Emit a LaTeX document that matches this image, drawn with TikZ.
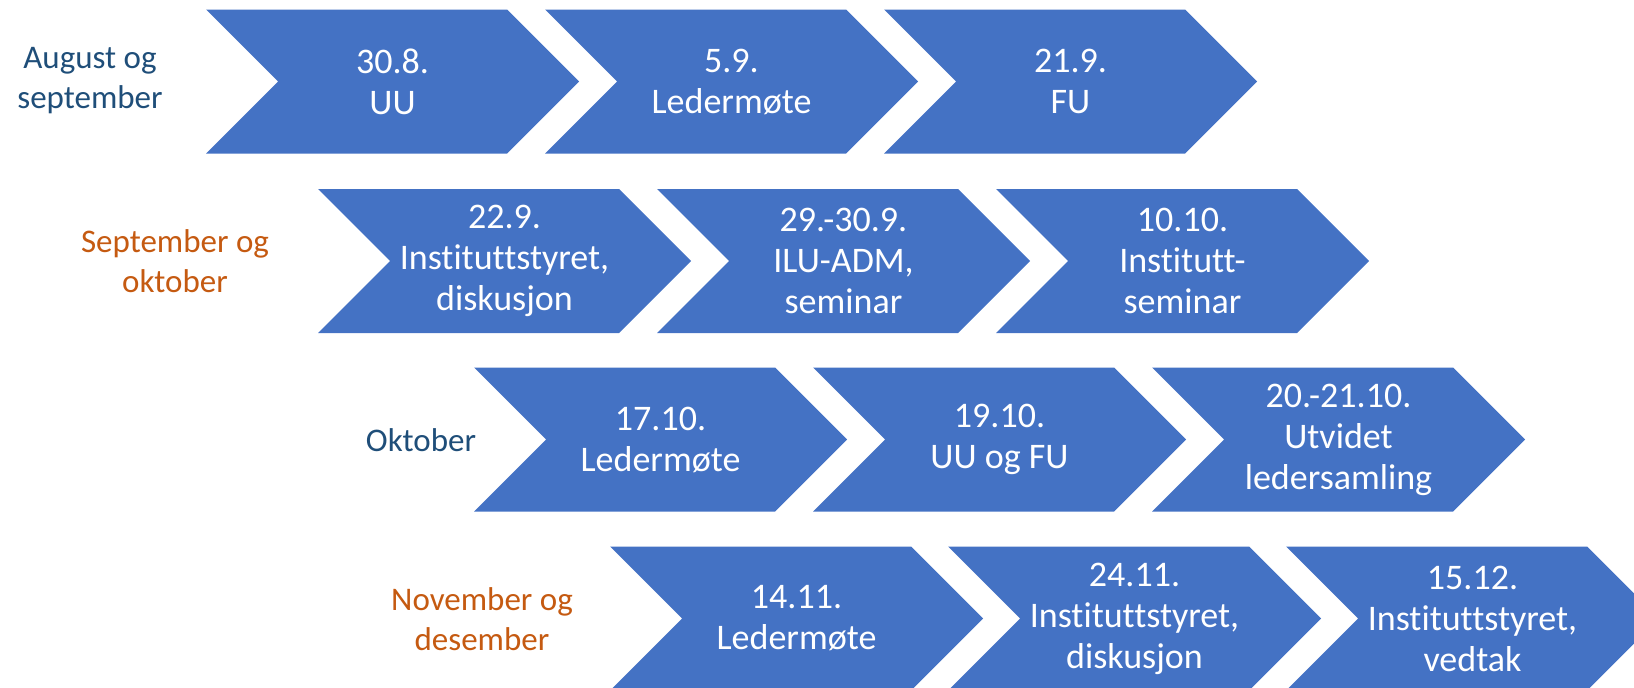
\documentclass[tikz,border=0pt]{standalone}
\usepackage{fontspec}
\setmainfont{Carlito}[Ligatures=NoCommon]
\definecolor{chevblue}{HTML}{4472C4}
\definecolor{lbldark}{HTML}{1F4E79}
\definecolor{lblorange}{HTML}{C55A11}
\newcommand\mychev[4]{%
  \fill[chevfill] (#1pt,-#2pt) -- ++(301pt,0pt) -- ++(72pt,-72pt) -- ++(-72pt,-72pt) -- ++(-301pt,0pt) -- ++(72pt,72pt) -- cycle;
  \node[chevtext] (#3) at ({#1pt+186.5pt},{-#2pt-72pt}) {#4};
}
\tikzset{
  chevfill/.style={fill=chevblue},
  chevtext/.style={text=white, align=center, inner sep=0pt, font=\fontsize{36}{41}\selectfont},
  lbl/.style={align=center, inner sep=0pt, font=\fontsize{33}{40}\selectfont},
}
\begin{document}
\begin{tikzpicture}
\useasboundingbox (0pt,0pt) rectangle (1634pt,-688pt);
\clip (0pt,0pt) rectangle (1634pt,-688pt);
% row 1
\node[lbl, text=lbldark] (l1) at (90pt,-81pt) {August og\\september};
\mychev{206}{9.5}{a1}{30.8.\\UU}
\mychev{545}{9.5}{b1}{5.9.\\Ledermøte}
\mychev{884}{9.5}{c1}{21.9.\\FU}
% row 2
\node[lbl, text=lblorange] (l2) at (175pt,-261pt) {September og\\oktober};
\mychev{318}{189}{a2}{22.9.\\Instituttstyret,\\diskusjon}
\mychev{657}{189}{b2}{29.-30.9.\\ILU-ADM,\\seminar}
\mychev{996}{189}{c2}{10.10.\\Institutt-\\seminar}
% row 3
\node[lbl, text=lbldark] (l3) at (421pt,-440pt) {Oktober};
\mychev{474}{367.5}{a3}{17.10.\\Ledermøte}
\mychev{813}{367.5}{b3}{19.10.\\UU og FU}
\mychev{1152}{367.5}{c3}{20.-21.10.\\Utvidet\\ledersamling}
% row 4
\node[lbl, text=lblorange] (l4) at (482pt,-619pt) {November og\\desember};
\mychev{610}{546.5}{a4}{14.11.\\Ledermøte}
\mychev{948}{546.5}{b4}{24.11.\\Instituttstyret,\\diskusjon}
\mychev{1286}{546.5}{c4}{15.12.\\Instituttstyret,\\vedtak}
\end{tikzpicture}
\end{document}
